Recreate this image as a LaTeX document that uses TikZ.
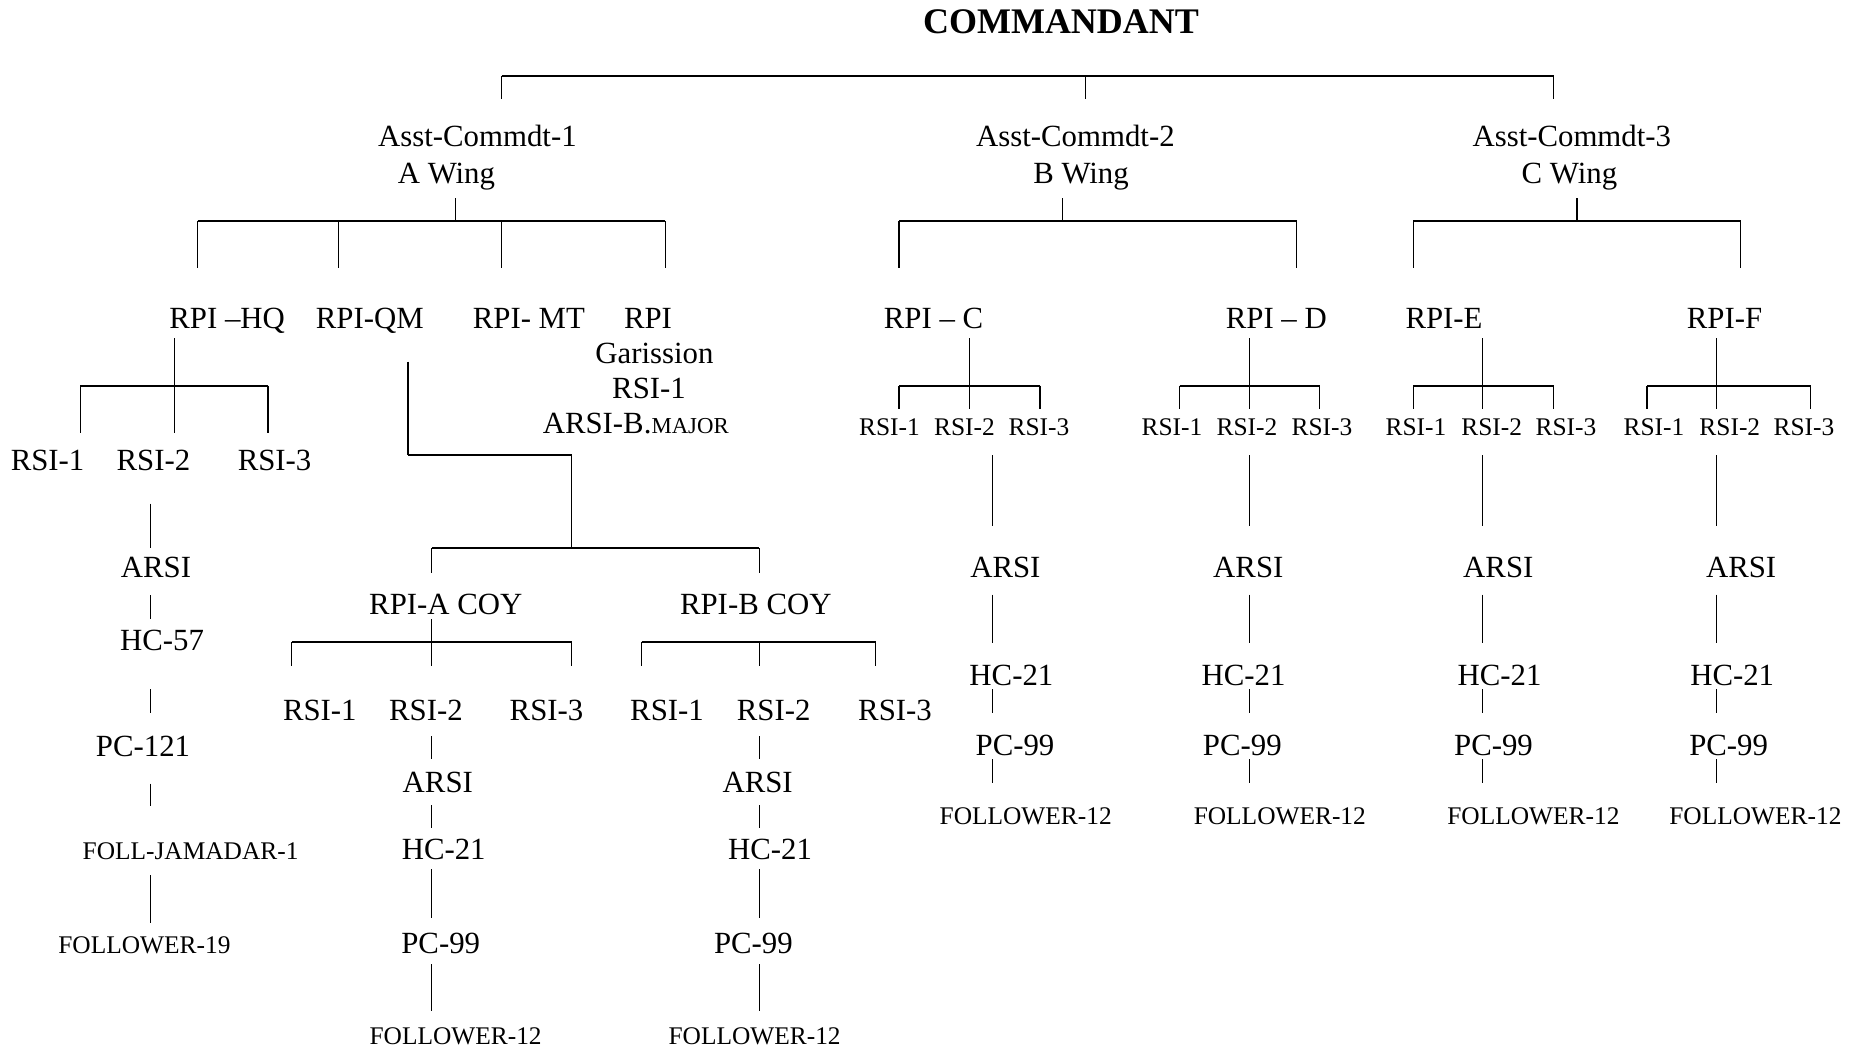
\documentclass[tikz,border=0pt]{standalone}
\usepackage{fontspec}
\setmainfont{Liberation Serif}

\begin{document}
\begin{tikzpicture}[x=0.5pt,y=-0.5pt,
  lbl/.style={inner sep=0pt,anchor=base,font=\fontsize{15.4}{18}\selectfont},
  sml/.style={lbl,font=\fontsize{12.7}{15}\selectfont},
  bar/.style={line width=1.1pt},
  stem/.style={line width=0.6pt}]
\path[use as bounding box,fill=white] (0,0) rectangle (1867,1049);

% commandant and wings
\node[lbl,font=\fontsize{18}{21}\selectfont\bfseries] (cmdt) at (1061,33) {COMMANDANT};
\draw[bar] (501.5,76) -- (1553.6,76);
\foreach \x in {501.5,1085.8,1553.6} \draw[stem] (\x,76) -- (\x,99.3);

\node[lbl] (ac1) at (477.4,146.5) {Asst-Commdt-1};
\node[lbl] (ac1w) at (446.4,183.5) {A Wing};
\node[lbl] (ac2) at (1075.4,146.5) {Asst-Commdt-2};
\node[lbl] (ac2w) at (1081,183.5) {B Wing};
\node[lbl] (ac3) at (1571.8,146.5) {Asst-Commdt-3};
\node[lbl] (ac3w) at (1569.4,183.5) {C Wing};

\foreach \s/\l/\r in {455.6/197.7/665.3, 1062.6/899/1296.5, 1576.9/1413.2/1740.5}{
  \draw[stem] (\s,198) -- (\s,221);
  \draw[bar] (\l,221) -- (\r,221);
}
\foreach \x in {197.7,338.3,501.5,665.3,899,1296.5,1413.2,1740.5} \draw[stem] (\x,221) -- (\x,268.3);

% A wing
\node[lbl] (hq) at (227.2,328) {RPI –HQ};
\node[lbl] (qm) at (369.8,328) {RPI-QM};
\node[lbl] (mt) at (528.9,328) {RPI- MT};
\node[lbl] (gar) at (648,328) {RPI};
\node[lbl] (gar2) at (654.5,363.3) {Garission};
\node[lbl] (gar3) at (649,398.3) {RSI-1};
\node[lbl] (gar4) at (635.8,433.3) {ARSI-B.{\fontsize{11.4}{13}\selectfont MAJOR}};

\node[lbl] (hq1) at (47.6,470) {RSI-1};
\node[lbl] (hq2) at (153.4,470) {RSI-2};
\node[lbl] (hq3) at (274.6,470) {RSI-3};
\coordinate (hqcol) at (174.5,0);
\draw[stem,shorten <=5.15pt,shorten >=18.65pt] (hqcol |- hq.base) -- (hqcol |- hq2.base);
\draw[bar] (80.4,385.7) -- (268,385.7);
\foreach \x in {80.4,268} \draw[stem] (\x,385.7) -- (\x,432.7);

\coordinate (lcol) at (150.7,0);
\node[lbl] (larsi) at (156,577) {ARSI};
\node[lbl] (lhc) at (162,650) {HC-57};
\node[lbl] (lpc) at (143,756.7) {PC-121};
\node[sml] (ljam) at (190.6,859) {FOLL-JAMADAR-1};
\node[sml] (lfol) at (144.4,953.4) {FOLLOWER-19};
\foreach \a/\b/\s/\e in {hq2/larsi/16.85/14.5, larsi/lhc/9/15.5, lhc/lpc/19.5/22.1, lpc/ljam/13.45/26.3, ljam/lfol/8.2/15.2}
  \draw[stem,shorten <=\s pt,shorten >=\e pt] (lcol |- \a.base) -- (lcol |- \b.base);

% companies under RPI-QM
\coordinate (qmcol) at (408,0);
\draw[stem,shorten <=16.85pt] (qmcol |- qm.base) -- (408,455);
\draw[bar] (408,455) -- (571.8,455);
\draw[stem] (571.8,455) -- (571.8,548);
\draw[bar] (431.8,548) -- (759.4,548);
\foreach \x in {431.8,759.4} \draw[stem] (\x,548) -- (\x,572.8);

\node[lbl] (ca) at (445.8,614) {RPI-A COY};
\node[lbl] (cb) at (755.8,614) {RPI-B COY};
\foreach \c/\x/\y/\z in {ca/319.8/425.9/546.5, cb/667/773.7/895}{
  \node[lbl] (\c1) at (\x,720.6) {RSI-1};
  \node[lbl] (\c2) at (\y,720.6) {RSI-2};
  \node[lbl] (\c3) at (\z,720.6) {RSI-3};
}
\coordinate (cacol) at (431.8,0);
\coordinate (cbcol) at (759.4,0);
\draw[stem,shorten <=2.5pt,shorten >=27.15pt] (cacol |- ca.base) -- (cacol |- ca2.base);
\draw[bar] (291.8,641.8) -- (571.8,641.8);
\draw[bar] (641.5,641.8) -- (875.5,641.8);
\foreach \x in {291.8,571.8,641.5,759.4,875.5} \draw[stem] (\x,641.8) -- (\x,666.3);

\foreach \c/\ax/\hx/\px/\fx in {ca/437.8/443.7/440.7/455.6, cb/757.6/770/753.4/754.6}{
  \node[lbl] (\c arsi) at (\ax,792.4) {ARSI};
  \node[lbl] (\c hc) at (\hx,859) {HC-21};
  \node[lbl] (\c pc) at (\px,953.4) {PC-99};
  \node[sml] (\c fol) at (\fx,1044.5) {FOLLOWER-12};
}
\foreach \c in {ca,cb}
  \foreach \a/\b/\s/\e in {2/arsi/7.85/16.7, arsi/hc/6.45/15.5, hc/pc/5.2/17.5, pc/fol/5.3/16.75}
    \draw[stem,shorten <=\s pt,shorten >=\e pt] (\c col |- \c\a.base) -- (\c col |- \c\b.base);

% B and C wings
\node[lbl] (rc) at (933.5,328) {RPI – C};
\node[lbl] (rd) at (1276.3,328) {RPI – D};
\node[lbl] (re) at (1444,328) {RPI-E};
\node[lbl] (rf) at (1724.5,328) {RPI-F};

\foreach \c/\x/\y/\z in {rc/889.5/964.5/1039, rd/1172/1247/1322, re/1416/1491.7/1566, rf/1654/1729.8/1804}{
  \node[sml] (\c1) at (\x,435) {RSI-1};
  \node[sml] (\c2) at (\y,435) {RSI-2};
  \node[sml] (\c3) at (\z,435) {RSI-3};
}
\foreach \c/\sx/\l/\r in {rc/969.7/899/1040, rd/1249.5/1179.8/1319.7, re/1482.8/1413.2/1553.6, rf/1716.7/1647/1810.8}{
  \coordinate (\c stem) at (\sx,0);
  \draw[stem,shorten <=5.15pt,shorten >=12.85pt] (\c stem |- \c.base) -- (\c stem |- \c2.base);
  \draw[bar] (\l,385.7) -- (\r,385.7);
  \draw[stem] (\l,385.7) -- (\l,409.3);
  \draw[stem] (\r,385.7) -- (\r,409.3);
}

\foreach \c/\cx/\ax/\hx/\px/\fx in {rc/992.3/1005.4/1011.4/1015/1025.7, rd/1249.5/1248.3/1243.5/1242.3/1279.8, re/1482.8/1498.3/1499.5/1493.5/1533.4, rf/1716.7/1741.1/1732.2/1728.6/1755.4}{
  \coordinate (\c col) at (\cx,0);
  \node[lbl] (\c arsi) at (\ax,577) {ARSI};
  \node[lbl] (\c hc) at (\hx,685.6) {HC-21};
  \node[lbl] (\c pc) at (\px,755.6) {PC-99};
  \node[sml] (\c fol) at (\fx,824) {FOLLOWER-12};
}
\foreach \c in {rc,rd,re,rf}
  \foreach \a/\b/\s/\e in {2/arsi/10/25.5, arsi/hc/8.75/21.3, hc/pc/1.7/21.3, pc/fol/1.7/20.5}
    \draw[stem,shorten <=\s pt,shorten >=\e pt] (\c col |- \c\a.base) -- (\c col |- \c\b.base);
\end{tikzpicture}
\end{document}
